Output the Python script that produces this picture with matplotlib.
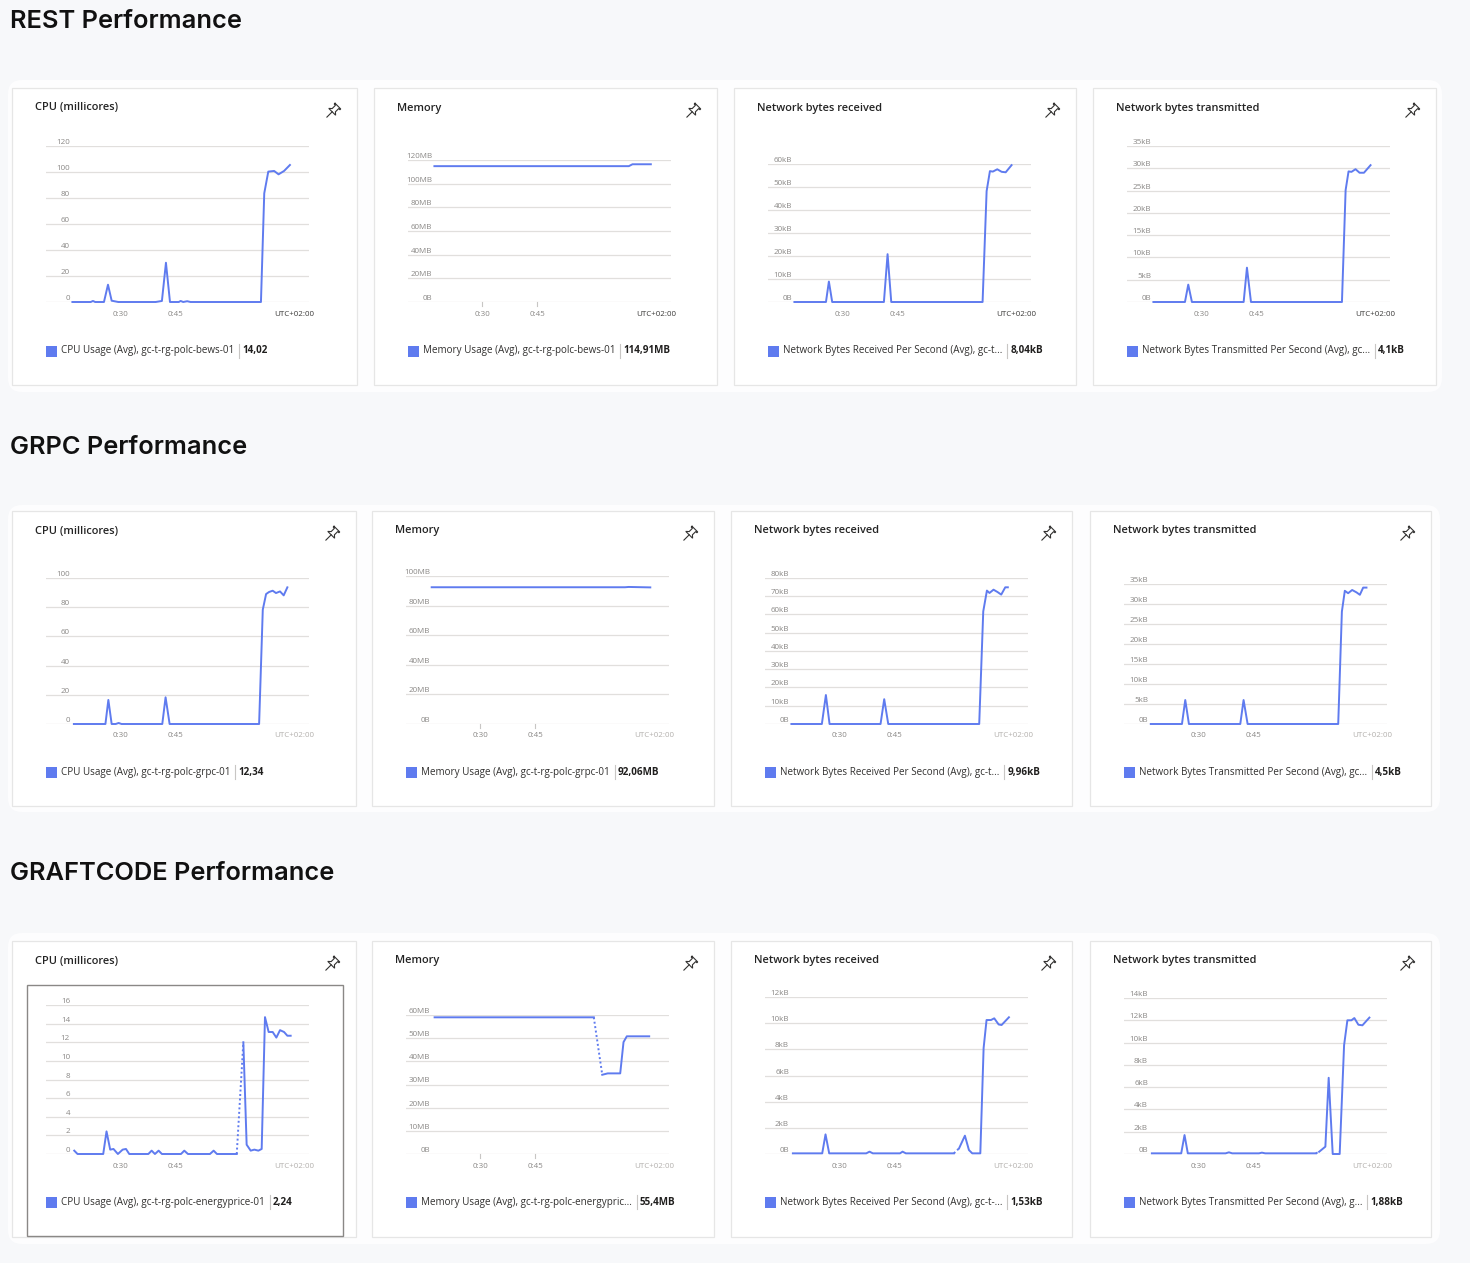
import matplotlib
matplotlib.use('Agg')
import matplotlib.pyplot as plt
import matplotlib.transforms as mtransforms
from matplotlib.patches import FancyBboxPatch, Rectangle
import numpy as np

nan = np.nan

# ---- data (time in minutes after 0:00, values in panel units) ----
rest_cpu_t = [17, 22, 22.6, 23.2, 25.6, 26.7, 27.7, 29.5, 39.7, 41.4, 42.5, 43.6, 46, 46.5, 47.2, 48.3, 49.2,
              68.4, 69.3, 70.4, 72.0, 73.2, 74.7, 76.3]
rest_cpu_v = [0, 0, 0.8, 0, 0, 13.3, 1, 0, 0, 0.8, 30.2, 0, 0, 0.8, 0, 0.6, 0,
              0, 83.6, 100.3, 100.8, 98.2, 100.8, 105.4]
rest_mem_t = [17, 70, 71, 76]
rest_mem_v = [114.8, 114.8, 116.4, 116.4]
rest_rx_t = [17, 25.6, 26.4, 27.3, 41.4, 42.4, 43.4, 68.3, 69.4, 70.3, 71.1, 72.3, 73.5, 74.6, 76.2]
rest_rx_v = [0, 0, 8.9, 0, 0, 20.8, 0, 0, 48.2, 56.9, 56.7, 57.7, 56.6, 56.4, 59.5]
rest_tx_t = [17, 25.6, 26.5, 27.5, 41.6, 42.5, 43.6, 68.4, 69.4, 70.2, 71.0, 72.1, 73.2, 74.4, 76.2]
rest_tx_v = [0, 0, 3.9, 0, 0, 7.7, 0, 0, 25.1, 29.3, 29.2, 29.8, 29.0, 29.0, 30.7]

grpc_cpu_t = [17.4, 26.0, 26.8, 27.7, 28.8, 29.6, 30.4, 41.5, 42.4, 43.5, 67.9, 68.9, 69.8, 70.6, 71.6,
              72.5, 73.6, 74.6, 75.6]
grpc_cpu_v = [0, 0, 16.5, 0, 0, 0.7, 0, 0, 18.3, 0, 0, 78.3, 89.0, 90.4, 91.3, 89.7, 90.8, 88.1, 93.6]
grpc_mem_t = [16.8, 69.5, 70.5, 76.4]
grpc_mem_v = [92.4, 92.4, 92.6, 92.3]
grpc_rx_t = [17, 25.3, 26.4, 27.4, 41.3, 42.3, 43.4, 68.2, 69.3, 70.3, 71.0, 72.1, 73.2, 74.2, 75.3, 76.0]
grpc_rx_v = [0, 0, 15.9, 0, 0, 13.6, 0, 0, 61.7, 73.1, 71.8, 73.6, 72.3, 70.9, 74.9, 74.9]
grpc_tx_t = [17.1, 25.6, 26.5, 27.5, 41.5, 42.4, 43.5, 68.2, 69.2, 70.0, 70.9, 72.0, 73.2, 74.1, 75.0, 75.9]
grpc_tx_v = [0, 0, 6.0, 0, 0, 6.0, 0, 0, 28.1, 33.3, 32.7, 33.5, 32.9, 32.3, 34.1, 34.1]

graft_cpu_t = [17.5, 18.4, 25.4, 26.3, 27.3, 28.2, 29.4, 30.7, 31.6, 32.5, 37.7, 38.6, 39.5, 40.5, 41.4,
               46.6, 47.5, 48.5, 54.5, 55.5, 56.4, 61.8, 62.7, 63.6, 64.5, 65.6, 66.6, 67.7, 68.6,
               69.5, 70.5, 71.6, 72.6, 73.6, 74.7, 75.6, 76.5]
graft_cpu_v = [0.36, 0, 0, 2.43, 0.47, 0.54, 0, 0.47, 0.54, 0, 0, 0.36, 0, 0.36, 0,
               0, 0.36, 0, 0, 0.36, 0, 0, nan, 12.0, 1.0, 0.36, 0.47, 0.36, 0.54,
               14.7, 13.1, 13.1, 12.5, 13.3, 13.1, 12.7, 12.7]
graft_mem_t = [17.6, 61.0, 62.1, 63.3, 64.8, 68.2, 69.1, 70.0, 76.1]
graft_mem_v = [59.0, 59.0, nan, 34.2, 34.8, 34.8, 48.3, 50.8, 50.8]
graft_rx_t = [17.4, 25.4, 26.3, 27.3, 37.4, 38.3, 39.2, 46.6, 47.3, 48.2, 61.3, 62.0, 62.7, 64.3, 65.4,
              66.3, 68.5, 69.4, 70.2, 71.4, 72.3, 73.5, 74.3, 76.3]
graft_rx_v = [0.05, 0.05, 1.5, 0.05, 0.05, 0.18, 0.05, 0.05, 0.18, 0.05, 0.05, nan, 0.43, 1.4, 0.3,
              0.05, 0.05, 8.1, 10.24, 10.24, 10.37, 9.9, 9.86, 10.45]
graft_tx_t = [17.4, 25.4, 26.3, 27.2, 37.5, 38.4, 39.3, 46.6, 47.4, 48.3, 62.1, 62.5, 63.0, 64.7, 65.6,
              66.7, 68.6, 69.8, 70.7, 71.8, 72.6, 73.7, 74.8, 76.7]
graft_tx_v = [0.06, 0.06, 1.7, 0.06, 0.06, 0.15, 0.06, 0.06, 0.12, 0.06, 0.06, nan, 0.2, 0.66, 6.84,
              0, 0, 9.76, 12.0, 12.0, 12.2, 11.6, 11.55, 12.24]

# y ticks and labels
cpu120_ticks = [0, 20, 40, 60, 80, 100, 120]
cpu120_labels = ['0', '20', '40', '60', '80', '100', '120']
mem120_labels = ['0B', '20MB', '40MB', '60MB', '80MB', '100MB', '120MB']
rx60_ticks = [0, 10, 20, 30, 40, 50, 60]
rx60_labels = ['0B', '10kB', '20kB', '30kB', '40kB', '50kB', '60kB']
tx35_ticks = [0, 5, 10, 15, 20, 25, 30, 35]
tx35_labels = ['0B', '5kB', '10kB', '15kB', '20kB', '25kB', '30kB', '35kB']
cpu100_ticks = [0, 20, 40, 60, 80, 100]
cpu100_labels = ['0', '20', '40', '60', '80', '100']
mem100_labels = ['0B', '20MB', '40MB', '60MB', '80MB', '100MB']
rx80_ticks = [0, 10, 20, 30, 40, 50, 60, 70, 80]
rx80_labels = ['0B', '10kB', '20kB', '30kB', '40kB', '50kB', '60kB', '70kB', '80kB']
cpu16_ticks = [0, 2, 4, 6, 8, 10, 12, 14, 16]
cpu16_labels = ['0', '2', '4', '6', '8', '10', '12', '14', '16']
mem60_ticks = [0, 10, 20, 30, 40, 50, 60]
mem60_labels = ['0B', '10MB', '20MB', '30MB', '40MB', '50MB', '60MB']
rx12_ticks = [0, 2, 4, 6, 8, 10, 12]
rx12_labels = ['0B', '2kB', '4kB', '6kB', '8kB', '10kB', '12kB']
tx14_ticks = [0, 2, 4, 6, 8, 10, 12, 14]
tx14_labels = ['0B', '2kB', '4kB', '6kB', '8kB', '10kB', '12kB', '14kB']

x_ticks = [30, 45]
x_labels = ['0:30', '0:45']

titles = ['CPU (millicores)', 'Memory', 'Network bytes received', 'Network bytes transmitted']

rest_legends = ['CPU Usage (Avg), gc-t-rg-polc-bews-01', 'Memory Usage (Avg), gc-t-rg-polc-bews-01',
                'Network Bytes Received Per Second (Avg), gc-t...',
                'Network Bytes Transmitted Per Second (Avg), gc...']
rest_values = ['14,02', '114,91MB', '8,04kB', '4,1kB']
grpc_legends = ['CPU Usage (Avg), gc-t-rg-polc-grpc-01', 'Memory Usage (Avg), gc-t-rg-polc-grpc-01',
                'Network Bytes Received Per Second (Avg), gc-t...',
                'Network Bytes Transmitted Per Second (Avg), gc...']
grpc_values = ['12,34', '92,06MB', '9,96kB', '4,5kB']
graft_legends = ['CPU Usage (Avg), gc-t-rg-polc-energyprice-01', 'Memory Usage (Avg), gc-t-rg-polc-energypric...',
                 'Network Bytes Received Per Second (Avg), gc-t-...',
                 'Network Bytes Transmitted Per Second (Avg), g...']
graft_values = ['2,24', '55,4MB', '1,53kB', '1,88kB']

LINE = '#5f7bef'
W, H = 1470, 1263

fig = plt.figure(figsize=(W / 100, H / 100), dpi=100)
fig.patch.set_facecolor('#f7f8fa')
bg = fig.add_axes([0, 0, 1, 1])
bg.set_xlim(0, W)
bg.set_ylim(H, 0)
bg.set_axis_off()
renderer = fig.canvas.get_renderer()

UI = ['Open Sans', 'DejaVu Sans']


def fit_size(s, target_w, family, weight):
    t = fig.text(0, 0, s, fontsize=10, family=family, weight=weight)
    w = t.get_window_extent(renderer).width
    t.remove()
    return 10 * target_w / w


head_fs = fit_size('REST Performance', 231, ['Inter', 'DejaVu Sans'], 'semibold')
title_fs = fit_size('CPU (millicores)', 83, UI, 'semibold')
leg_fs = fit_size('CPU Usage (Avg), gc-t-rg-polc-bews-01', 174, UI, 'normal')
tick_fs = fit_size('120MB', 26, UI, 'normal')


def draw_pin(cx, cy):
    body = [(-3.5, 6), (3.5, 6), (3.5, 5), (2, 5), (2, 1), (4.2, -1), (-4.2, -1), (-2, 1), (-2, 5),
            (-3.5, 5), (-3.5, 6)]
    needle = [(0, -1), (0, -7.5)]
    a = np.deg2rad(-45)
    for pts in (body, needle):
        p = np.array(pts) * 1.15
        xr = p[:, 0] * np.cos(a) - p[:, 1] * np.sin(a)
        yr = p[:, 0] * np.sin(a) + p[:, 1] * np.cos(a)
        bg.plot(cx + xr, cy - yr, color='#323130', lw=0.8, solid_joinstyle='miter')


rows = [
    dict(heading='REST Performance', head_y=22, cont=(8, 80, 1434, 312), top=88, bottom=385,
         base=302, title_y=108, leg_y=351, lefts=[12, 374, 734, 1093], widths=[345, 343, 342, 343],
         utc='#3b3a39',
         panels=[(rest_cpu_t, rest_cpu_v, cpu120_ticks, cpu120_labels, 146, False),
                 (rest_mem_t, rest_mem_v, cpu120_ticks, mem120_labels, 160, True),
                 (rest_rx_t, rest_rx_v, rx60_ticks, rx60_labels, 164, False),
                 (rest_tx_t, rest_tx_v, tx35_ticks, tx35_labels, 146, False)],
         legends=rest_legends, values=rest_values),
    dict(heading='GRPC Performance', head_y=447, cont=(8, 505, 1432, 307), top=511, bottom=806,
         base=724, title_y=531, leg_y=772, lefts=[12, 372, 731, 1090], widths=[344, 342, 341, 341],
         utc='#b3b0ad',
         panels=[(grpc_cpu_t, grpc_cpu_v, cpu100_ticks, cpu100_labels, 578, False),
                 (grpc_mem_t, grpc_mem_v, cpu100_ticks, mem100_labels, 576, True),
                 (grpc_rx_t, grpc_rx_v, rx80_ticks, rx80_labels, 578, False),
                 (grpc_tx_t, grpc_tx_v, tx35_ticks, tx35_labels, 584, False)],
         legends=grpc_legends, values=grpc_values),
    dict(heading='GRAFTCODE Performance', head_y=874, cont=(8, 933, 1432, 311), top=941, bottom=1237,
         base=1154, title_y=961, leg_y=1202, lefts=[12, 372, 731, 1090], widths=[344, 342, 341, 341],
         utc='#b3b0ad',
         panels=[(graft_cpu_t, graft_cpu_v, cpu16_ticks, cpu16_labels, 1005, False),
                 (graft_mem_t, graft_mem_v, mem60_ticks, mem60_labels, 1015, True),
                 (graft_rx_t, graft_rx_v, rx12_ticks, rx12_labels, 997, False),
                 (graft_tx_t, graft_tx_v, tx14_ticks, tx14_labels, 998, False)],
         legends=graft_legends, values=graft_values),
]

for r_i, row in enumerate(rows):
    bg.text(10, row['head_y'], row['heading'], fontsize=head_fs, family=['Inter', 'DejaVu Sans'],
            weight='semibold', color='#111111', ha='left', va='center')
    cx, cy, cw, ch = row['cont']
    bg.add_patch(FancyBboxPatch((cx, cy), cw, ch, boxstyle='round,pad=0,rounding_size=14',
                                facecolor='#fdfdfe', edgecolor='none', zorder=0))
    for i in range(4):
        left, width = row['lefts'][i], row['widths'][i]
        top, bottom = row['top'], row['bottom']
        bg.add_patch(Rectangle((left, top), width, bottom - top, facecolor='white',
                               edgecolor='#e6e6e6', lw=0.9, zorder=1))
        bg.text(left + 23, row['title_y'], titles[i], fontsize=title_fs, family=UI, weight='semibold',
                color='#242424', ha='left', va='center', zorder=3)
        draw_pin(left + width - 24, row['title_y'] + 3)

        t, v, ticks, labels, grid_top, is_mem = row['panels'][i]
        a_left, a_right = left + 34, left + 297
        base = row['base']
        ax = fig.add_axes([a_left / W, 1 - base / H, (a_right - a_left) / W, (base - grid_top) / H])
        ax.set_axis_off()
        ax.set_xlim(9.8, 81.5)
        ax.set_ylim(0, ticks[-1])
        for tv, tl in zip(ticks, labels):
            ax.axhline(tv, color='#e1dfdd', lw=0.9, zorder=1)
            ax.text(0, tv, tl, transform=mtransforms.offset_copy(ax.get_yaxis_transform(), fig=fig,
                                                                  x=24, y=2, units='dots'),
                    ha='right', va='baseline', fontsize=tick_fs, family=UI, color='#8a8886')
        xt = mtransforms.offset_copy(ax.get_xaxis_transform(), fig=fig, x=0, y=-12, units='dots')
        for xv, xl in zip(x_ticks, x_labels):
            ax.text(xv, 0, xl, transform=xt, ha='center', va='center', fontsize=tick_fs, family=UI,
                    color='#8a8886')
            if is_mem:
                ax.plot([xv, xv], [0, -4.0 / (base - grid_top)], transform=ax.get_xaxis_transform(),
                        color='#c8c6c4', lw=0.8, clip_on=False)
        ax.text(1, 0, 'UTC+02:00', transform=mtransforms.offset_copy(ax.transAxes, fig=fig, x=5, y=-12,
                                                                     units='dots'),
                ha='right', va='center', fontsize=tick_fs, family=UI, color=row['utc'])

        t_arr = np.array(t, dtype=float)
        v_arr = np.array(v, dtype=float)
        # missing samples: dotted bridge between neighbouring valid points
        for k in np.where(np.isnan(v_arr))[0]:
            ax.plot([t_arr[k - 1], t_arr[k + 1]], [v_arr[k - 1], v_arr[k + 1]], color=LINE, lw=1.4,
                    ls=(0, (1, 1.3)), clip_on=False, zorder=2)
        ax.plot(t_arr, v_arr, color=LINE, lw=1.4, clip_on=False, zorder=3, solid_joinstyle='round')

        # legend
        ly = row['leg_y']
        bg.add_patch(Rectangle((left + 34, ly - 5.5), 11, 11, facecolor=LINE, edgecolor='none', zorder=3))
        lt = bg.text(left + 49, ly, row['legends'][i], fontsize=leg_fs, family=UI, color='#323130',
                     ha='left', va='center', zorder=3)
        x_end = lt.get_window_extent(renderer).x1
        bg.plot([x_end + 5, x_end + 5], [ly - 7, ly + 7], color='#c8c6c4', lw=0.8, zorder=3)
        bg.text(x_end + 8, ly, row['values'][i], fontsize=leg_fs, family=UI, weight='bold',
                color='#201f1e', ha='left', va='center', zorder=3)

# selected tile outline in the GRAFTCODE row
bg.add_patch(Rectangle((27, 985), 316, 251, facecolor='none', edgecolor='#8a8886', lw=1.0, zorder=4))

fig.savefig('out.png', dpi=100, facecolor=fig.get_facecolor())
